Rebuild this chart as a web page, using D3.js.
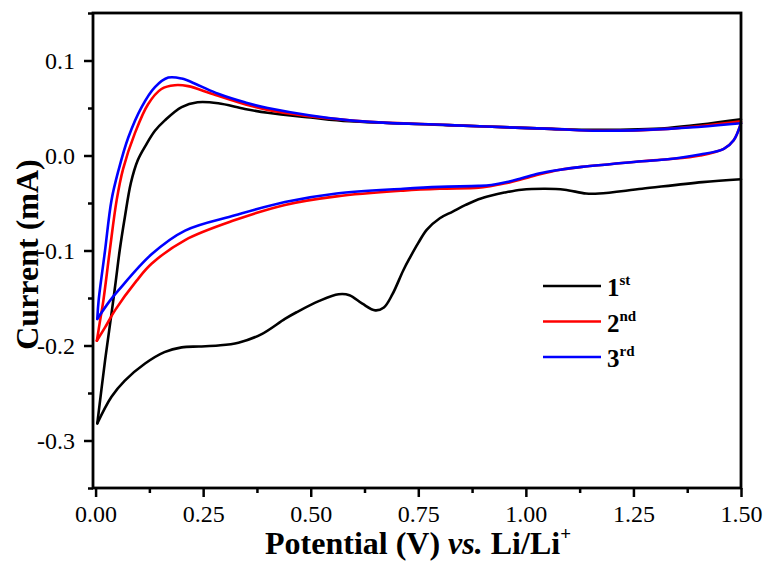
<!DOCTYPE html>
<html>
<head>
<meta charset="utf-8">
<script src="https://cdn.jsdelivr.net/npm/d3@7"></script>
<style>
  body { margin: 0; background: #fff; }
  svg { display: block; }
  text { font-family: "Liberation Serif", "Times New Roman", serif; fill: #000; }
</style>
</head>
<body>
<svg width="769" height="563"></svg>
<script>
// cycle 1: cathodic sweep 1.5 -> 0 V, then anodic 0 -> 1.5 V
var cycle1V = [1.50, 1.41, 1.27, 1.17, 1.14, 1.09, 1.045, 0.99, 0.95, 0.92, 0.89, 0.86, 0.83, 0.80, 0.77, 0.75, 0.73, 0.715, 0.69, 0.67, 0.65, 0.62, 0.59, 0.565, 0.52, 0.467, 0.44, 0.386, 0.332, 0.285, 0.24, 0.20, 0.16, 0.115, 0.068, 0.037, 0.004,
               0.022, 0.038, 0.047, 0.056, 0.068, 0.082, 0.098, 0.117, 0.138, 0.161, 0.20, 0.237, 0.285, 0.347, 0.40, 0.50, 0.59, 0.82, 1.06, 1.17, 1.33, 1.50];
var cycle1I = [-0.025, -0.028, -0.035, -0.040, -0.040, -0.036, -0.035, -0.036, -0.039, -0.042, -0.046, -0.052, -0.059, -0.066, -0.078, -0.092, -0.108, -0.121, -0.146, -0.160, -0.163, -0.156, -0.147, -0.146, -0.153, -0.165, -0.172, -0.188, -0.197, -0.200, -0.201, -0.202, -0.207, -0.219, -0.237, -0.254, -0.282,
               -0.216, -0.163, -0.132, -0.100, -0.065, -0.029, -0.005, 0.011, 0.026, 0.037, 0.051, 0.056, 0.055, 0.049, 0.045, 0.040, 0.036, 0.032, 0.028, 0.027, 0.029, 0.038];

var cycle2V = [1.50, 1.483, 1.46, 1.405, 1.33, 1.27, 1.20, 1.13, 1.08, 1.03, 0.99, 0.956, 0.92, 0.89, 0.80, 0.715, 0.56, 0.44, 0.324, 0.208, 0.130, 0.095, 0.045, 0.022, 0.003,
               0.010, 0.018, 0.033, 0.049, 0.064, 0.091, 0.122, 0.153, 0.184, 0.215, 0.27, 0.347, 0.40, 0.59, 0.82, 1.06, 1.17, 1.33, 1.50];
var cycle2I = [0.034, 0.016, 0.007, 0.000, -0.004, -0.006, -0.009, -0.012, -0.015, -0.020, -0.025, -0.029, -0.032, -0.034, -0.035, -0.037, -0.043, -0.052, -0.068, -0.089, -0.114, -0.132, -0.163, -0.181, -0.195,
               -0.175, -0.153, -0.100, -0.047, -0.014, 0.023, 0.054, 0.070, 0.074, 0.073, 0.065, 0.054, 0.048, 0.037, 0.032, 0.028, 0.026, 0.028, 0.036];

var cycle3V = [1.50, 1.483, 1.46, 1.405, 1.33, 1.27, 1.20, 1.13, 1.08, 1.03, 0.99, 0.956, 0.92, 0.89, 0.80, 0.715, 0.56, 0.44, 0.324, 0.208, 0.130, 0.053, 0.033, 0.004,
               0.007, 0.022, 0.037, 0.053, 0.076, 0.107, 0.138, 0.169, 0.20, 0.239, 0.285, 0.347, 0.40, 0.59, 0.82, 1.06, 1.17, 1.33, 1.50];
var cycle3I = [0.034, 0.016, 0.007, 0.001, -0.004, -0.006, -0.009, -0.012, -0.015, -0.019, -0.024, -0.028, -0.031, -0.032, -0.033, -0.035, -0.040, -0.049, -0.063, -0.079, -0.104, -0.142, -0.153, -0.172,
               -0.153, -0.100, -0.047, -0.016, 0.019, 0.051, 0.072, 0.082, 0.081, 0.074, 0.065, 0.056, 0.050, 0.037, 0.032, 0.028, 0.026, 0.028, 0.034];

var seriesNames = ["1", "2", "3"];
var seriesSups = ["st", "nd", "rd"];
var seriesColors = ["#000000", "#ff0000", "#0000ff"];

var xTicks = [0, 0.25, 0.5, 0.75, 1.0, 1.25, 1.5];
var xMinor = [0.125, 0.375, 0.625, 0.875, 1.125, 1.375];
var yTicks = [-0.3, -0.2, -0.1, 0.0, 0.1];
var yMinor = [-0.35, -0.25, -0.15, -0.05, 0.05, 0.15];

var svg = d3.select("svg");
var pLeft = 93, pRight = 741, pTop = 13, pBottom = 488;

var x = d3.scaleLinear().domain([-0.006, 1.5]).range([pLeft, pRight]);
var y = d3.scaleLinear().domain([-0.35, 0.15]).range([pBottom, pTop]);

// data lines (split each cycle at its turning point so the corner stays sharp)
var cycles = [[cycle1V, cycle1I], [cycle2V, cycle2I], [cycle3V, cycle3I]];
var line = d3.line()
    .x(function (d) { return x(d[0]); })
    .y(function (d) { return y(d[1]); })
    .curve(d3.curveCatmullRom.alpha(0.5));

var plot = svg.append("g");
cycles.forEach(function (c, i) {
    var pts = c[0].map(function (v, k) { return [v, c[1][k]]; });
    var turn = d3.minIndex(pts, function (d) { return d[0]; });
    [pts.slice(0, turn + 1), pts.slice(turn)].forEach(function (branch) {
        plot.append("path")
            .attr("d", line(branch))
            .attr("fill", "none")
            .attr("stroke", seriesColors[i])
            .attr("stroke-width", 2.6)
            .attr("stroke-linejoin", "round")
            .attr("stroke-linecap", "round");
    });
});

// axes
function styleAxis(g) {
    g.select(".domain").remove();
    g.selectAll(".tick line").attr("stroke", "#000").attr("stroke-width", 2.5);
    g.selectAll(".tick text")
        .attr("font-family", "Liberation Serif, serif")
        .attr("font-size", 24)
        .attr("fill", "#000");
}
var hyphen = function (f) {
    return function (d) { return f(d).replace("\u2212", "-"); };
};

svg.append("g")
    .attr("transform", "translate(0," + pBottom + ")")
    .call(d3.axisBottom(x).tickValues(xTicks).tickSize(9).tickPadding(8).tickFormat(d3.format(".2f")))
    .call(styleAxis);
svg.append("g")
    .attr("transform", "translate(0," + pBottom + ")")
    .call(d3.axisBottom(x).tickValues(xMinor).tickSize(5).tickFormat(""))
    .call(styleAxis);
svg.append("g")
    .attr("transform", "translate(" + pLeft + ",0)")
    .call(d3.axisLeft(y).tickValues(yTicks).tickSize(9).tickPadding(9).tickFormat(hyphen(d3.format(".1f"))))
    .call(styleAxis);
svg.append("g")
    .attr("transform", "translate(" + pLeft + ",0)")
    .call(d3.axisLeft(y).tickValues(yMinor).tickSize(5).tickFormat(""))
    .call(styleAxis);

svg.append("rect")
    .attr("x", pLeft).attr("y", pTop)
    .attr("width", pRight - pLeft).attr("height", pBottom - pTop)
    .attr("fill", "none").attr("stroke", "#000").attr("stroke-width", 2.8);

// axis titles
var xt = svg.append("text")
    .attr("x", 418)
    .attr("y", 554)
    .attr("text-anchor", "middle")
    .attr("font-size", 32)
    .attr("font-weight", "bold");
xt.append("tspan").text("Potential (V) ");
xt.append("tspan").attr("font-style", "italic").text("vs.");
xt.append("tspan").text(" Li/Li");
xt.append("tspan").attr("font-size", 19).attr("dy", -14).text("+");

svg.append("text")
    .attr("transform", "translate(38," + ((pTop + pBottom) / 2 + 4) + ") rotate(-90)")
    .attr("text-anchor", "middle")
    .attr("font-size", 32)
    .attr("font-weight", "bold")
    .text("Current (mA)");

// legend
var legend = svg.append("g");
seriesNames.forEach(function (name, i) {
    var ly = 286 + i * 35.5;
    legend.append("line")
        .attr("x1", 543).attr("x2", 601)
        .attr("y1", ly).attr("y2", ly)
        .attr("stroke", seriesColors[i]).attr("stroke-width", 2.6);
    var t = legend.append("text")
        .attr("x", 607).attr("y", ly + 10)
        .attr("font-size", 25).attr("font-weight", "bold");
    t.append("tspan").text(name);
    t.append("tspan").attr("font-size", 15).attr("dy", -11).text(seriesSups[i]);
});
</script>
</body>
</html>
